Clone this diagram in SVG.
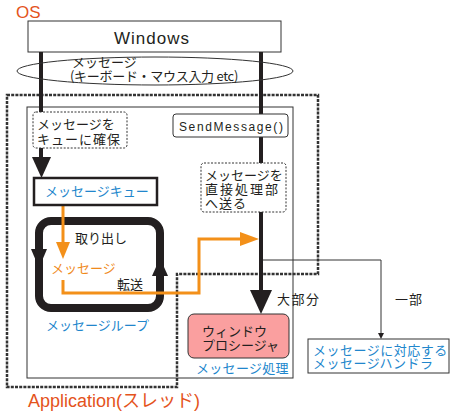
<svg xmlns="http://www.w3.org/2000/svg" width="454" height="413" viewBox="0 0 454 413">
<style>
.jp{font-family:"Noto Sans CJK JP","Liberation Sans",sans-serif;font-size:13px;fill:#231f20}
.en{font-family:"Liberation Sans","Noto Sans CJK JP",sans-serif;fill:#231f20}
.blue{fill:#2186cc}
.org{fill:#f08a1c}
.red{fill:#e4531c}
.thin{fill:none;stroke:#333;stroke-width:1}
.note{fill:#fff;stroke:#333;stroke-width:1;stroke-dasharray:2,1.5}
.dark{fill:#231f20}
.olin{fill:none;stroke:#f39019;stroke-width:3}
</style>
<rect width="454" height="413" fill="#fff"/>
<g id="labels-os">
<text class="en red" x="16" y="18" font-size="17">OS</text>
</g>
<g id="windows">
<rect x="28" y="21" width="253" height="31" fill="#fff" stroke="#333" stroke-width="1"/>
<text class="en" x="152" y="44" font-size="17" letter-spacing="1" text-anchor="middle">Windows</text>
</g>
<g id="app-frame">
<rect x="27" y="107" width="266" height="271" class="thin"/>
<path d="M7,95 H318 V274 H177 V387 H7 Z" fill="none" stroke="#333" stroke-width="2.5" stroke-dasharray="3,1.2"/>
</g>
<g id="connectors">
<line x1="41" y1="52" x2="41" y2="160" stroke="#231f20" stroke-width="4"/>
<polygon class="dark" points="32,157 51,157 41.5,178"/>
<line x1="261" y1="52" x2="261" y2="292" stroke="#231f20" stroke-width="4"/>
<polygon class="dark" points="250,290 272,290 261,314"/>
<path d="M263,260 H381 V334" class="thin"/>
<polygon class="dark" points="378,333 384,333 381,339"/>
<rect x="39" y="221" width="121" height="87" rx="12" fill="none" stroke="#231f20" stroke-width="8"/>
<polygon class="dark" points="31,249 47,249 39,268"/>
<polygon class="dark" points="152,276 168,276 160,258"/>
<line x1="63" y1="205" x2="63" y2="244" class="olin"/>
<polygon fill="#f39019" points="56,242 70,242 63,259"/>
<path d="M63,280 V293 H199 V239 H242" class="olin"/>
<polygon fill="#f39019" points="240,232 240,246 259,239"/>
</g>
<g id="message">
<ellipse cx="155" cy="71" rx="138" ry="14" class="thin"/>
<text class="jp" font-size="12"><tspan x="72" y="67">メッセージ</tspan><tspan x="70" y="81" letter-spacing="-0.3">(キーボード・マウス入力 etc)</tspan></text>
</g>
<g id="note-queue">
<rect x="33" y="112" width="94" height="36" rx="3" class="note"/>
<text class="jp"><tspan x="37" y="129">メッセージを</tspan><tspan x="37" y="144" letter-spacing="1">キューに確保</tspan></text>
</g>
<g id="sendmessage">
<rect x="173" y="114" width="115" height="23" rx="3" fill="#fff" stroke="#333" stroke-width="1"/>
<text class="en" x="179" y="131" font-size="12" letter-spacing="1.6">SendMessage()</text>
</g>
<g id="note-direct">
<rect x="201" y="163" width="85" height="49" rx="3" class="note"/>
<text class="jp"><tspan x="205" y="180">メッセージを</tspan><tspan x="205" y="194" letter-spacing="2">直接処理部</tspan><tspan x="205" y="208" letter-spacing="1">へ送る</tspan></text>
</g>
<g id="queue">
<rect x="34" y="178" width="123" height="27" fill="#fff" stroke="#231f20" stroke-width="2.5"/>
<text class="jp blue" x="45" y="196">メッセージキュー</text>
</g>
<g id="loop">
<text class="jp" x="75" y="243">取り出し</text>
<text class="jp org" x="51" y="273">メッセージ</text>
<text class="jp" x="117" y="289">転送</text>
<text class="jp blue" x="46" y="330">メッセージループ</text>
</g>
<g id="winproc">
<rect x="188" y="314" width="101" height="44" rx="6" fill="#fa9f9f" stroke="#333" stroke-width="1"/>
<text class="jp"><tspan x="202" y="336">ウィンドウ</tspan><tspan x="202" y="350">プロシージャ</tspan></text>
<text class="jp blue" x="196" y="373" letter-spacing="0.3">メッセージ処理</text>
</g>
<g id="edge-labels">
<text class="jp" x="277" y="304" letter-spacing="1.5">大部分</text>
<text class="jp" x="395" y="304" letter-spacing="1">一部</text>
</g>
<g id="handler">
<rect x="308" y="339" width="141" height="34" class="thin"/>
<text class="jp blue" letter-spacing="0.5"><tspan x="313" y="355">メッセージに対応する</tspan><tspan x="313" y="368">メッセージハンドラ</tspan></text>
</g>
<g id="labels-app">
<text class="en red" x="28" y="407" font-size="18">Application(スレッド)</text>
</g>
</svg>
